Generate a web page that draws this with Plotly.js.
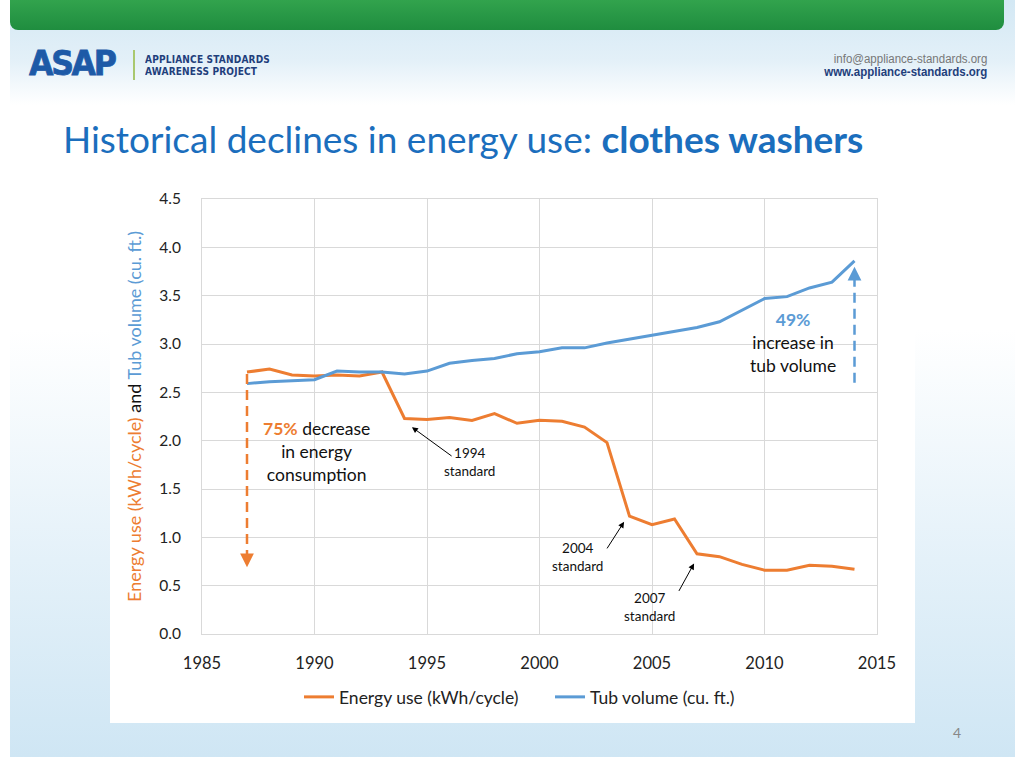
<!DOCTYPE html>
<html>
<head>
<meta charset="utf-8">
<script src="https://cdn.plot.ly/plotly-3.0.1.min.js"></script>
<style>
html,body{margin:0;padding:0;width:1024px;height:768px;overflow:hidden;background:#ffffff;font-family:Lato,"Open Sans",sans-serif;}
#bg{position:absolute;left:10px;top:0;width:1005px;height:757px;
 background:linear-gradient(to bottom,#d3e8f4 0px,#e3f0f8 60px,#ffffff 105px,#ffffff 330px,#e4f1f9 560px,#cfe6f4 757px);}
#green{position:absolute;left:10px;top:0;width:994px;height:30px;border-radius:0 0 8px 8px;
 background:linear-gradient(to bottom,#32a34d,#1f8d3f);}
#logo{position:absolute;left:29px;top:41px;font-family:"DejaVu Sans",sans-serif;font-weight:bold;
 font-size:34px;letter-spacing:-2.5px;color:#1d5aa7;line-height:44px;transform:scaleX(0.93);transform-origin:left top;
 -webkit-text-stroke:0.8px #1d5aa7;}
#vline{position:absolute;left:133px;top:50px;width:2px;height:30px;background:#a9c86f;}
#org{position:absolute;left:145px;top:53px;font-family:"DejaVu Sans",sans-serif;font-weight:bold;font-size:10.5px;line-height:12px;color:#1f3f7c;letter-spacing:0.2px;transform:scaleX(0.86);transform-origin:left top;}
#contact{position:absolute;right:37px;top:53px;text-align:right;font-family:"Liberation Sans",Arial,sans-serif;font-size:12.5px;line-height:13px;transform:scaleX(0.92);transform-origin:right top;}
#contact .a{color:#777;}
#contact .b{color:#1f3f7c;font-weight:bold;}
#title{position:absolute;left:63px;top:116px;font-family:Lato,sans-serif;font-size:37px;color:#1b6ebd;white-space:nowrap;}
#title b{font-weight:bold;}
#pnum{position:absolute;left:953px;top:724px;font-size:14px;color:#888;}
#chart{position:absolute;left:0;top:0;width:1024px;height:768px;}
</style>
</head>
<body>
<div id="bg"></div>
<div id="green"></div>
<div id="logo">ASAP</div>
<div id="vline"></div>
<div id="org">APPLIANCE STANDARDS<br>AWARENESS PROJECT</div>
<div id="contact"><span class="a">info@appliance-standards.org</span><br><span class="b">www.appliance-standards.org</span></div>
<div id="chart"></div>
<div id="title">Historical declines in energy use: <b>clothes washers</b></div>
<div id="pnum">4</div>
<script>
const years = [1987,1988,1989,1990,1991,1992,1993,1994,1995,1996,1997,1998,1999,2000,2001,2002,2003,2004,2005,2006,2007,2008,2009,2010,2011,2012,2013,2014];
const energyUse = [2.71,2.74,2.68,2.67,2.68,2.67,2.71,2.23,2.22,2.24,2.21,2.28,2.18,2.21,2.20,2.14,1.98,1.22,1.13,1.19,0.83,0.80,0.72,0.66,0.66,0.71,0.70,0.67];
const tubVolume = [2.59,2.61,2.62,2.63,2.72,2.71,2.71,2.69,2.72,2.80,2.83,2.85,2.90,2.92,2.96,2.96,3.01,3.05,3.09,3.13,3.17,3.23,3.35,3.47,3.49,3.58,3.64,3.86];
const seriesNames = ["Energy use (kWh/cycle)","Tub volume (cu. ft.)"];
const xTicks = [1985,1990,1995,2000,2005,2010,2015];
const yTicks = [0,0.5,1,1.5,2,2.5,3,3.5,4,4.5];

const ORANGE = "#ED7D31", BLUE = "#5B9BD5";

const traces = [
  {x: years, y: energyUse, name: seriesNames[0], type: "scatter", mode: "lines",
   line: {color: ORANGE, width: 3}},
  {x: years, y: tubVolume, name: seriesNames[1], type: "scatter", mode: "lines",
   line: {color: BLUE, width: 3}}
];

// plot area pixels: x 202..877, y 199..634
const L = 202, R = 1024-877, T = 199, B = 768-634;
const pw = 1024-L-R, ph = 768-T-B;
function px2x(p){return (p-L)/pw;}
function py2y(p){return (768-B-p)/ph;}

const layout = {
  width: 1024, height: 768,
  margin: {l: L, r: R, t: T, b: B, pad: 0},
  paper_bgcolor: "rgba(0,0,0,0)", plot_bgcolor: "#ffffff",
  font: {family: "Lato, 'Open Sans', sans-serif", color: "#222", size: 15},
  showlegend: true,
  legend: {orientation: "h", x: px2x(550), xanchor: "center", y: py2y(697), yanchor: "middle",
           font: {size: 17.5, color: "#222"}, bgcolor: "rgba(0,0,0,0)", itemwidth: 30, tracegroupgap: 0,
           entrywidth: 206, entrywidthmode: "pixels"},
  xaxis: {range: [1985, 2015], tickvals: xTicks, ticktext: xTicks.map(String), showgrid: true,
          gridcolor: "#d9d9d9", gridwidth: 1, showline: true, linecolor: "#d9d9d9", mirror: true,
          zeroline: false, ticks: "", ticklabelstandoff: 14, tickfont: {size: 16.5}, fixedrange: true},
  yaxis: {range: [0, 4.5], tickvals: yTicks, ticktext: yTicks.map(v => v.toFixed(1)), showgrid: true,
          gridcolor: "#d9d9d9", gridwidth: 1, showline: true, linecolor: "#d9d9d9", mirror: true,
          zeroline: false, ticks: "", ticklabelstandoff: 17, tickfont: {size: 15.5}, fixedrange: true,
          title: {text: '<span style="color:' + ORANGE + '">Energy use (kWh/cycle)</span> and <span style="color:' + BLUE + '">Tub volume (cu. ft.)</span>',
                  font: {size: 18, color: "#111"}, standoff: 12}},
  shapes: [
    {type: "rect", xref: "paper", yref: "paper", x0: px2x(110), x1: px2x(915), y0: py2y(723), y1: py2y(185),
     fillcolor: "#ffffff", line: {width: 0}, layer: "below"},
    {type: "line", xref: "x", yref: "y", x0: 1987, x1: 1987, y0: 2.69, y1: 0.78,
     line: {color: ORANGE, width: 2.5, dash: "10px,6px"}},
    {type: "line", xref: "x", yref: "y", x0: 2014, x1: 2014, y0: 2.60, y1: 3.70,
     line: {color: BLUE, width: 2.5, dash: "10px,6px"}}
  ],
  annotations: [
    {x: 1987, y: 0.69, ax: 1987, ay: 0.82, xref: "x", yref: "y", axref: "x", ayref: "y",
     text: "", showarrow: true, arrowhead: 2, arrowsize: 1.1, arrowwidth: 2.5, arrowcolor: ORANGE},
    {x: 2014, y: 3.80, ax: 2014, ay: 3.66, xref: "x", yref: "y", axref: "x", ayref: "y",
     text: "", showarrow: true, arrowhead: 2, arrowsize: 1.1, arrowwidth: 2.5, arrowcolor: BLUE},
    {x: 1994.33, y: 2.14, ax: 1996.16, ay: 1.83, xref: "x", yref: "y", axref: "x", ayref: "y",
     text: "", showarrow: true, arrowhead: 2, arrowsize: 1.2, arrowwidth: 1, arrowcolor: "#000"},
    {x: 2003.76, y: 1.16, ax: 2002.96, ay: 0.87, xref: "x", yref: "y", axref: "x", ayref: "y",
     text: "", showarrow: true, arrowhead: 2, arrowsize: 1.2, arrowwidth: 1, arrowcolor: "#000"},
    {x: 2006.87, y: 0.73, ax: 2006.16, ay: 0.43, xref: "x", yref: "y", axref: "x", ayref: "y",
     text: "", showarrow: true, arrowhead: 2, arrowsize: 1.2, arrowwidth: 1, arrowcolor: "#000"},
    {x: 1996.9, y: 1.78, xref: "x", yref: "y", text: "1994<br>standard", showarrow: false,
     font: {size: 13.5, color: "#111"}, align: "center"},
    {x: 2001.67, y: 0.80, xref: "x", yref: "y", text: "2004<br>standard", showarrow: false,
     font: {size: 13.5, color: "#111"}, align: "center"},
    {x: 2004.87, y: 0.28, xref: "x", yref: "y", text: "2007<br>standard", showarrow: false,
     font: {size: 13.5, color: "#111"}, align: "center"},
    {x: 1990.07, y: 1.89, xref: "x", yref: "y",
     text: '<b><span style="color:' + ORANGE + '">75%</span></b> decrease<br>in energy<br>consumption',
     showarrow: false, font: {size: 17.5, color: "#111"}, align: "center"},
    {x: 2011.27, y: 3.02, xref: "x", yref: "y",
     text: '<b><span style="color:' + BLUE + '">49%</span></b><br>increase in<br>tub volume',
     showarrow: false, font: {size: 17.5, color: "#111"}, align: "center"}
  ]
};

Plotly.newPlot("chart", traces, layout, {staticPlot: true, displayModeBar: false});
</script>
</body>
</html>
